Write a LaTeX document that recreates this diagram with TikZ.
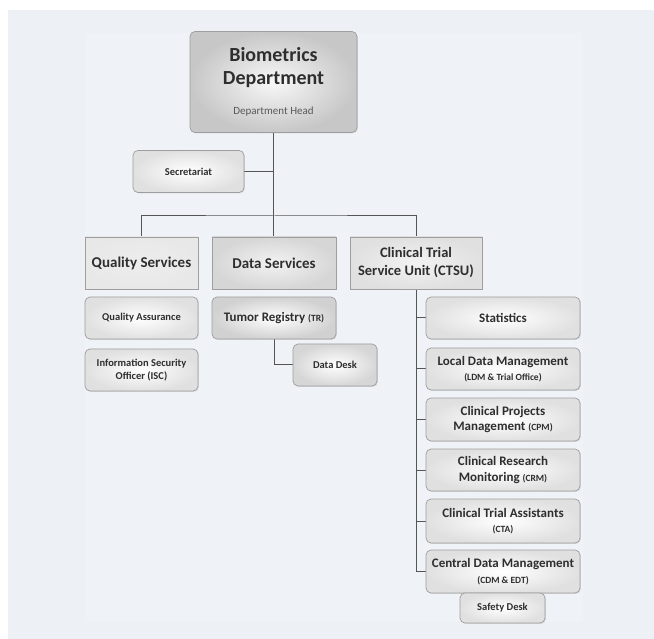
\documentclass[tikz,border=0pt]{standalone}
\usepackage{fontspec}
\setmainfont{Carlito}
\usetikzlibrary{shadows}
\pgfdeclarelayer{bg}
\pgfsetlayers{bg,main}
\definecolor{panel}{HTML}{EDF0F5}
\definecolor{innerpanel}{HTML}{EFF2F7}
\definecolor{ink}{HTML}{2E2E2E}
\definecolor{wirecol}{HTML}{555555}
\tikzset{
    every node/.style={text=ink, align=center, inner sep=2pt},
    box/.style={rectangle, draw=black!38, line width=0.7pt, rounded corners=5pt,
        inner color=white, outer color=black!12,
        drop shadow={opacity=0.22, shadow xshift=0.9pt, shadow yshift=-0.9pt}},
    small/.style={box, font=\bfseries\fontsize{10.5}{12.5}\selectfont},
    unit/.style={box, font=\bfseries\fontsize{13}{15.5}\selectfont},
    head/.style={box, rounded corners=0pt, inner color=black!5, outer color=black!12,
        font=\bfseries\fontsize{15}{18}\selectfont},
    wire/.style={draw=wirecol, line width=1pt}
}
\newcommand{\subtag}[1]{{\fontsize{9.5}{11}\selectfont #1}}

\begin{document}
\begin{tikzpicture}[x=1pt, y=-1pt]
	\node (bio) [box, minimum width=167pt, minimum height=101pt, inner color=black!3,
		outer color=black!22, font=\bfseries\fontsize{20}{23}\selectfont] at (273.5,82)
		{Biometrics\\Department\\[7pt]
		{\mdseries\fontsize{11}{13}\selectfont\color{black!65}Department Head}};
	\node (sec) [small, minimum width=111pt, minimum height=42pt] at (188.5,171.5) {Secretariat};

	\node (qs) [head, minimum width=113pt, minimum height=52pt, inner color=black!7,
		outer color=black!9] at (141.5,263) {Quality Services};
	\node (ds) [head, minimum width=124pt, minimum height=52pt, outer color=black!16]
		at (274,263) {Data Services};
	\node (ctsu) [head, minimum width=132pt, minimum height=52pt,
		font=\bfseries\fontsize{14.5}{18}\selectfont] at (416,263) {Clinical Trial\\Service Unit (CTSU)};

	\node (qa) [small, minimum width=113pt, minimum height=42pt] at (141.5,318) {Quality Assurance};
	\node (iso) [small, minimum width=113pt, minimum height=42pt] at (141.5,370)
		{Information Security\\Officer (ISC)};

	\node (tr) [unit, minimum width=124pt, minimum height=42pt, outer color=black!18]
		at (274,318) {Tumor Registry \subtag{(TR)}};
	\node (dd) [small, minimum width=84pt, minimum height=42pt, outer color=black!16]
		at (335,365) {Data Desk};

	\node (stat) [unit, minimum width=154pt, minimum height=42pt] at (503,318) {Statistics};
	\node (ldm) [unit, minimum width=154pt, minimum height=42pt] at (503,369)
		{Local Data Management\\\subtag{(LDM \& Trial Office)}};
	\node (cpm) [unit, minimum width=154pt, minimum height=43pt] at (503,419.5)
		{Clinical Projects\\Management \subtag{(CPM)}};
	\node (crm) [unit, minimum width=154pt, minimum height=42pt] at (503,470)
		{Clinical Research\\Monitoring \subtag{(CRM)}};
	\node (cta) [unit, minimum width=154pt, minimum height=44pt] at (503,521)
		{Clinical Trial Assistants\\\subtag{(CTA)}};
	\node (cdm) [unit, minimum width=154pt, minimum height=43pt] at (503,571.5)
		{Central Data Management\\\subtag{(CDM \& EDT)}};
	\node (sd) [small, minimum width=85pt, minimum height=30pt] at (502.5,608) {Safety Desk};

	\coordinate (bus) at (274,216);

	\begin{pgfonlayer}{bg}
		\fill[white] (0,0) rectangle (654,639);
		\fill[panel] (8,10) rectangle (654,639);
		\fill[innerpanel] (85,33) rectangle (583,622);

		\draw[wire] (bio.south) -- (bio.south |- ds.north);
		\draw[wire] (sec.east) -- (sec.east -| bio.south);
		\draw[wire] (qs.north) |- (bus) -| (ctsu.north);
		\draw[wire] (tr.south) |- (dd.west);
		\draw[wire] (ctsu.south) |- (cdm.west);
		\foreach \n in {stat,ldm,cpm,crm,cta}
			\draw[wire] (\n.west) -- (\n.west -| ctsu.south);
	\end{pgfonlayer}
\end{tikzpicture}
\end{document}
